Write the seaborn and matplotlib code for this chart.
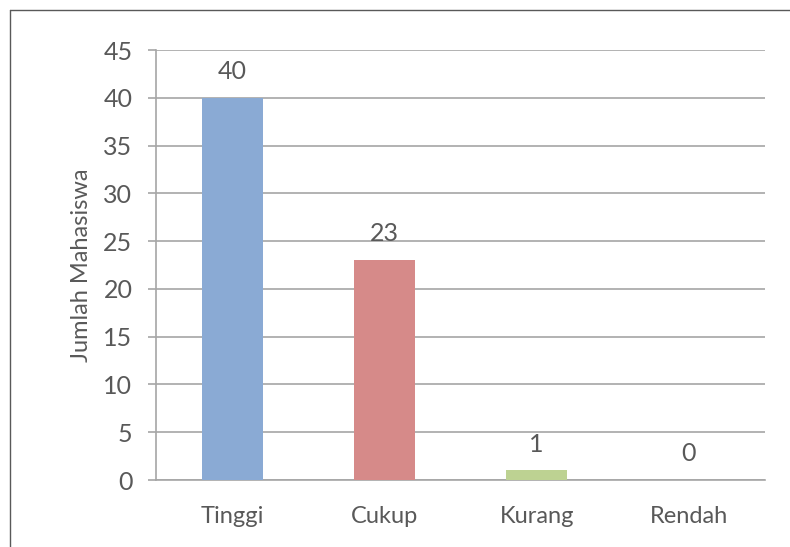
import matplotlib
matplotlib.use("Agg")
import matplotlib.pyplot as plt
import seaborn as sns
import pandas as pd
from matplotlib.lines import Line2D

categories = ["Tinggi", "Cukup", "Kurang", "Rendah"]
values = [40, 23, 1, 0]
colors = ["#8AAAD4", "#D68A89", "#BDD292", "#A9A9D0"]
yticks = [0, 5, 10, 15, 20, 25, 30, 35, 40, 45]

sns.set_theme(style="white")
plt.rcParams["font.family"] = ["Lato", "DejaVu Sans"]

W, H = 790, 547
fig = plt.figure(figsize=(W / 100, H / 100), dpi=100)
ax = fig.add_axes([156 / W, 1 - 480 / H, (765 - 156) / W, (480 - 50) / H])

df = pd.DataFrame({"cat": categories, "val": values})
sns.barplot(data=df, x="cat", y="val", hue="cat", palette=colors, legend=False,
            width=0.4, ax=ax, saturation=1, zorder=3, linewidth=0)

ax.set_ylim(0, 45)
ax.set_yticks(yticks)
ax.set_xlim(-0.5, 3.5)
grid_c = "#A6A6A6"
ax.yaxis.grid(True, color=grid_c, linewidth=1.2, zorder=0)
ax.set_axisbelow(True)
for s in ["top", "right"]:
    ax.spines[s].set_visible(False)
ax.spines["left"].set_color(grid_c)
ax.spines["left"].set_linewidth(1.2)
ax.spines["bottom"].set_color(grid_c)
ax.spines["bottom"].set_linewidth(1.2)
ax.tick_params(axis="y", which="major", left=True, length=6, width=1.2, color=grid_c,
               labelsize=18, labelcolor="#595959", pad=11)
ax.tick_params(axis="x", bottom=False, labelsize=17, labelcolor="#595959", pad=13)
ax.set_xlabel("")
ax.set_ylabel("Jumlah Mahasiswa", fontsize=17, color="#595959", labelpad=8)

for i, v in enumerate(values):
    ax.annotate(str(v), (i, v), xytext=(0, 19), textcoords="offset points",
                ha="center", va="center", fontsize=18, color="#595959")

# chart frame (partially visible)
fig.add_artist(Line2D([10 / W, 1.0], [1 - 10 / H, 1 - 10 / H], transform=fig.transFigure,
                      color="#595959", linewidth=1.0))
fig.add_artist(Line2D([10 / W, 10 / W], [1 - 10 / H, 0], transform=fig.transFigure,
                      color="#595959", linewidth=1.0))

fig.savefig("out.png", dpi=100)
